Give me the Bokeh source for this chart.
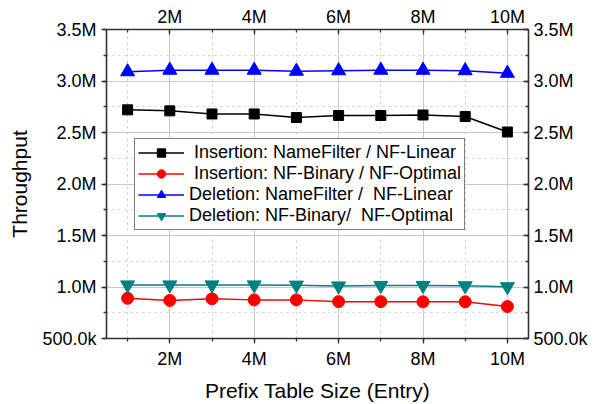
from bokeh.plotting import figure
from bokeh.models import (Range1d, LinearAxis, SingleIntervalTicker, CustomJSTickFormatter,
                          Legend, LegendItem)
from bokeh.embed import file_html
from bokeh.resources import INLINE

# ---- data ----
sizes = [1e6, 2e6, 3e6, 4e6, 5e6, 6e6, 7e6, 8e6, 9e6, 10e6]
ins_namefilter = [2.72e6, 2.71e6, 2.68e6, 2.68e6, 2.645e6, 2.665e6, 2.665e6, 2.67e6, 2.655e6, 2.505e6]
ins_nfbinary = [0.89e6, 0.87e6, 0.885e6, 0.875e6, 0.875e6, 0.858e6, 0.858e6, 0.856e6, 0.856e6, 0.81e6]
del_namefilter = [3.09e6, 3.105e6, 3.105e6, 3.105e6, 3.095e6, 3.10e6, 3.105e6, 3.105e6, 3.10e6, 3.075e6]
del_nfbinary = [1.02e6, 1.02e6, 1.02e6, 1.02e6, 1.018e6, 1.01e6, 1.015e6, 1.015e6, 1.012e6, 1.003e6]
labels = [" Insertion: NameFilter / NF-Linear",
          " Insertion: NF-Binary / NF-Optimal",
          "Deletion: NameFilter /  NF-Linear",
          "Deletion: NF-Binary/  NF-Optimal"]
x_title = "Prefix Table Size (Entry)"
y_title = "Throughput"

FONT = "Liberation Sans"
AX = "#333333"

p = figure(width=603, height=404, output_backend="svg", toolbar_location=None,
           x_range=Range1d(0.5e6, 10.5e6), y_range=Range1d(5e5, 3.5e6),
           min_border_left=106, min_border_right=75, min_border_top=29, min_border_bottom=64,
           background_fill_color="white", border_fill_color="white")
p.outline_line_color = None

xfmt = CustomJSTickFormatter(code="return (tick/1e6).toFixed(0) + 'M';")
yfmt = CustomJSTickFormatter(code="""
if (tick < 1e6) { return (tick/1e3).toFixed(1) + 'k'; }
return (tick/1e6).toFixed(1) + 'M';""")

def style(ax, inward):
    ax.axis_line_color = AX
    ax.axis_line_width = 1.6
    ax.major_tick_line_color = AX
    ax.minor_tick_line_color = AX
    ax.major_tick_line_width = 1.3
    ax.minor_tick_line_width = 1.3
    if inward:
        ax.major_tick_in = 5; ax.major_tick_out = 0
        ax.minor_tick_in = 3; ax.minor_tick_out = 0
    else:
        ax.major_tick_in = 0; ax.major_tick_out = 5
        ax.minor_tick_in = 0; ax.minor_tick_out = 3
    ax.major_label_text_font = FONT
    ax.major_label_text_font_size = "18px"
    ax.major_label_text_color = "black"
    ax.major_label_standoff = 5
    ax.axis_label_text_font = FONT
    ax.axis_label_text_font_size = "21px"
    ax.axis_label_text_font_style = "normal"
    ax.axis_label_text_color = "black"

xt = SingleIntervalTicker(interval=2e6, num_minor_ticks=2)
yt = SingleIntervalTicker(interval=5e5, num_minor_ticks=2)

p.xaxis.ticker = xt
p.xaxis.formatter = xfmt
p.xaxis.axis_label = x_title
p.yaxis.ticker = yt
p.yaxis.formatter = yfmt
p.yaxis.axis_label = y_title
style(p.xaxis[0], False)
style(p.yaxis[0], False)
p.xaxis.axis_label_standoff = 7
p.yaxis.axis_label_standoff = 8

top = LinearAxis(ticker=SingleIntervalTicker(interval=2e6, num_minor_ticks=2), formatter=xfmt)
style(top, True)
top.major_label_standoff = 3
p.add_layout(top, "above")
right = LinearAxis(ticker=SingleIntervalTicker(interval=5e5, num_minor_ticks=2), formatter=yfmt)
style(right, True)
right.major_label_standoff = 5
p.add_layout(right, "right")

for g in (p.xgrid, p.ygrid):
    g.grid_line_color = "#c8c8c8"
    g.grid_line_width = 1
    g.minor_grid_line_color = "#c8c8c8"
    g.minor_grid_line_dash = "dotted"
    g.minor_grid_line_width = 1

series = [
    (ins_namefilter, "black", "square", 10),
    (ins_nfbinary, "red", "circle", 12),
    (del_namefilter, "blue", "triangle", 14),
    (del_nfbinary, "#008080", "inverted_triangle", 14),
]
items = []
for (ys, col, mk, sz), lab in zip(series, labels):
    l = p.line(sizes, ys, line_color=col, line_width=1.5)
    s = p.scatter(sizes, ys, marker=mk, size=sz, fill_color=col, line_color=col)
    items.append(LegendItem(label=lab, renderers=[l, s]))

leg = Legend(items=items, location=(28, 108))
leg.label_text_font = FONT
leg.label_text_font_size = "18px"
leg.label_text_color = "black"
leg.glyph_width = 46
leg.glyph_height = 21
leg.label_height = 21
leg.spacing = 0
leg.padding = 3
leg.margin = 0
leg.label_standoff = 5
leg.border_line_color = "black"
leg.border_line_width = 1.3
leg.background_fill_alpha = 1
p.add_layout(leg, "center")

open("out.html", "w").write(file_html(p, INLINE))
